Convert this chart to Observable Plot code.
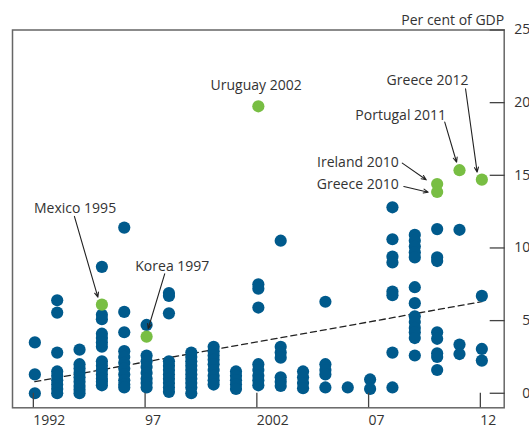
<!DOCTYPE html>
<html><head><meta charset="utf-8">
<script src="https://cdn.jsdelivr.net/npm/d3@7"></script>
<script src="https://cdn.jsdelivr.net/npm/@observablehq/plot@0.6"></script>
<style>body{margin:0;background:#fff;} svg{display:block}</style>
</head><body><div id="chart"></div>
<script>
// ---- data ----
const years = [1992,1993,1994,1995,1996,1997,1998,1999,2000,2001,2002,2003,2004,2005,2006,2007,2008,2009,2010,2011,2012];
const blueValues = [
  [3.5, 1.3, 0.0],
  [6.4, 5.55, 2.8, 1.5, 1.2, 0.9, 0.6, 0.3, 0.0],
  [3.0, 2.0, 1.7, 1.4, 1.1, 0.8, 0.5, 0.25, 0.0],
  [8.7, 5.4, 5.1, 4.1, 3.8, 3.5, 3.2, 2.2, 1.9, 1.6, 1.3, 1.0, 0.8, 0.55],
  [11.4, 5.6, 4.2, 2.9, 2.5, 2.1, 1.7, 1.3, 0.9, 0.6, 0.4],
  [4.7, 2.6, 2.2, 1.8, 1.4, 1.0, 0.7, 0.4],
  [6.9, 6.7, 5.5, 2.2, 1.9, 1.6, 1.3, 1.0, 0.7, 0.4, 0.1],
  [2.8, 2.5, 2.2, 1.9, 1.6, 1.3, 1.0, 0.7, 0.4, 0.0],
  [3.2, 2.9, 2.6, 2.3, 2.0, 1.6, 1.2, 0.9, 0.6],
  [1.5, 1.2, 0.9, 0.6, 0.3],
  [7.5, 7.2, 5.9, 2.0, 1.6, 1.2, 0.9, 0.55],
  [10.5, 3.2, 2.8, 2.45, 1.1, 0.8, 0.5],
  [1.5, 1.1, 0.7, 0.35],
  [6.3, 2.0, 1.6, 1.3, 0.4],
  [0.4],
  [0.95, 0.3],
  [12.8, 10.6, 9.4, 9.0, 7.0, 6.75, 2.8, 0.4],
  [10.9, 10.5, 10.1, 9.7, 9.35, 7.3, 6.2, 5.3, 4.9, 4.5, 4.2, 3.8, 2.6],
  [11.3, 9.35, 9.1, 4.2, 3.75, 2.75, 2.5, 1.6],
  [11.25, 3.35, 2.7],
  [6.7, 3.05, 2.25]
];
const crisisNames  = ["Mexico 1995","Korea 1997","Uruguay 2002","Ireland 2010","Greece 2010","Portugal 2011","Greece 2012"];
const crisisYears  = [1995, 1997, 2002, 2010, 2010, 2011, 2012];
const crisisValues = [6.1, 3.9, 19.75, 14.4, 13.85, 15.35, 14.7];
// label anchor points (data units)
const labelYears   = [1993.8, 1998.15, 2001.9, 2008.28, 2008.28, 2008.37, 2009.57];
const labelValues  = [12.7, 8.75, 21.2, 15.86, 14.37, 19.12, 21.53];
const labelAnchors = ["middle","middle","middle","end","end","middle","middle"];
// arrows (data units): start -> end; Uruguay has none
const arrowFromYear  = [1993.77, 1997.81, null, 2008.44, 2008.51, 2010.34, 2011.27];
const arrowFromValue = [12.17, 8.22, null, 15.84, 14.23, 18.66, 20.96];
const arrowToYear    = [1994.82, 1997.07, null, 2009.51, 2009.60, 2010.87, 2011.79];
const arrowToValue   = [6.61, 4.44, null, 14.69, 13.84, 15.90, 15.22];
const trendYears  = [1992, 2012];
const trendValues = [0.8, 6.3];
const xTicks = [1992, 1997, 2002, 2007, 2012];
const xTickLabels = ["1992", "97", "2002", "07", "12"];
const yTicks = [0, 5, 10, 15, 20, 25];
const unitLabel = "Per cent of GDP";

// ---- build tables ----
const blue = years.flatMap((yr, i) => blueValues[i].map(v => ({year: yr, value: v})));
const crises = crisisNames.map((n, i) => ({
  name: n, year: crisisYears[i], value: crisisValues[i],
  lx: labelYears[i], ly: labelValues[i], anchor: labelAnchors[i],
  ax1: arrowFromYear[i], ay1: arrowFromValue[i], ax2: arrowToYear[i], ay2: arrowToValue[i]
}));
const arrows = crises.filter(d => d.ax1 != null);
const trend = trendYears.map((yr, i) => ({year: yr, value: trendValues[i]}));

const BLUE = "#005a8c", GREEN = "#78be43", INK = "#333";
const FS = 14;

const chart = Plot.plot({
  width: 529, height: 426,
  marginLeft: 12, marginRight: 25.3, marginTop: 29.5, marginBottom: 18.7,
  style: {fontFamily: "'Open Sans', sans-serif", fontSize: FS + "px", color: INK, background: "#fff"},
  x: {domain: [1991, 2013]},
  y: {domain: [-1, 25]},
  marks: [
    Plot.line(trend, {x: "year", y: "value", stroke: "#222", strokeWidth: 1.3, strokeDasharray: "6,4"}),
    Plot.dot(blue, {x: "year", y: "value", r: 6.1, fill: BLUE, stroke: "none"}),
    Plot.dot(crises, {x: "year", y: "value", r: 6.1, fill: GREEN, stroke: "none"}),
    Plot.arrow(arrows, {x1: "ax1", y1: "ay1", x2: "ax2", y2: "ay2", stroke: "#222", strokeWidth: 1.1, headLength: 7, headAngle: 45}),
    Plot.text(crises.filter(d => d.anchor === "middle"), {x: "lx", y: "ly", text: "name", textAnchor: "middle", fill: INK, fontSize: FS}),
    Plot.text(crises.filter(d => d.anchor === "end"), {x: "lx", y: "ly", text: "name", textAnchor: "end", fill: INK, fontSize: FS}),
    Plot.frame({stroke: "#666", strokeWidth: 1.5}),
    Plot.axisX({anchor: "bottom", ticks: xTicks, tickSize: -14.5, tickPadding: 22, stroke: "#444", strokeWidth: 1.3,
      textAnchor: "start", dx: -1.5,
      tickFormat: d => xTickLabels[xTicks.indexOf(d)], label: null, fontSize: FS}),
    Plot.axisY({anchor: "right", ticks: yTicks, tickSize: -15, tickPadding: 41, stroke: "#444", strokeWidth: 1.3,
      textAnchor: "end",
      tickFormat: d => String(d), label: null, fontSize: FS}),
    Plot.text([unitLabel], {frameAnchor: "top-right", dy: -14.5, textAnchor: "end", fill: INK, fontSize: FS})
  ]
});
document.getElementById("chart").appendChild(chart);
</script>
</body></html>
